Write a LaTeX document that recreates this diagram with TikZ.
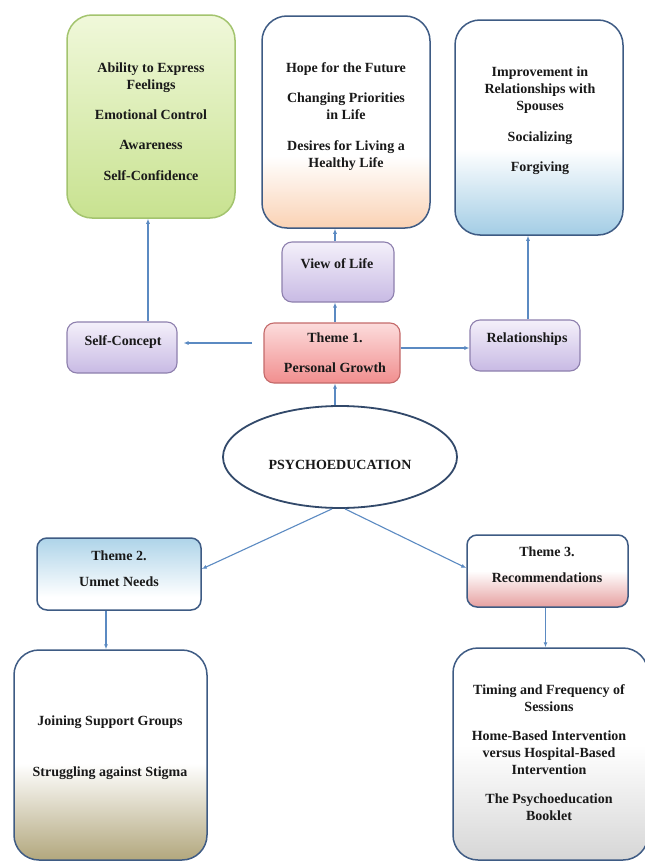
\documentclass[tikz,border=0pt]{standalone}
\usepackage{fontspec}
\setmainfont{Liberation Serif}
\usetikzlibrary{arrows.meta,shapes.geometric}
\definecolor{navy}{HTML}{3E5B84}
\definecolor{arrc}{HTML}{5B8AC2}
\definecolor{grline}{HTML}{A3C46E}
\definecolor{ppline}{HTML}{8E80AE}
\definecolor{pkline}{HTML}{C46A6A}
\definecolor{grbot}{HTML}{C8E290}
\definecolor{grtop}{HTML}{F0F8DA}
\definecolor{peach}{HTML}{FAD2B4}
\definecolor{lblue}{HTML}{A3CDE5}
\definecolor{ppbot}{HTML}{C8BAE4}
\definecolor{pptop}{HTML}{F4F0FA}
\definecolor{pkbot}{HTML}{F18E8E}
\definecolor{pktop}{HTML}{FCDCDC}
\definecolor{ttop}{HTML}{AED4E9}
\definecolor{tpink}{HTML}{E6A0A0}
\definecolor{khaki}{HTML}{B2A77D}
\definecolor{lgray}{HTML}{D6D6D6}
\pgfdeclareverticalshading{greensh}{100bp}{color(0bp)=(grbot); color(25bp)=(grbot); color(75bp)=(grtop); color(100bp)=(grtop)}
\pgfdeclareverticalshading{orangesh}{100bp}{color(0bp)=(peach); color(25bp)=(peach); color(42bp)=(white); color(100bp)=(white)}
\pgfdeclareverticalshading{bluesh}{100bp}{color(0bp)=(lblue); color(25bp)=(lblue); color(45bp)=(white); color(100bp)=(white)}
\pgfdeclareverticalshading{purplesh}{100bp}{color(0bp)=(ppbot); color(25bp)=(ppbot); color(75bp)=(pptop); color(100bp)=(pptop)}
\pgfdeclareverticalshading{pinksh}{100bp}{color(0bp)=(pkbot); color(25bp)=(pkbot); color(75bp)=(pktop); color(100bp)=(pktop)}
\pgfdeclareverticalshading{themetwosh}{100bp}{color(0bp)=(white); color(34bp)=(white); color(75bp)=(ttop); color(100bp)=(ttop)}
\pgfdeclareverticalshading{themethreesh}{100bp}{color(0bp)=(tpink); color(25bp)=(tpink); color(50bp)=(white); color(100bp)=(white)}
\pgfdeclareverticalshading{khakish}{100bp}{color(0bp)=(khaki); color(25bp)=(khaki); color(48bp)=(white); color(100bp)=(white)}
\pgfdeclareverticalshading{graysh}{100bp}{color(0bp)=(lgray); color(25bp)=(lgray); color(52bp)=(white); color(100bp)=(white)}
\tikzset{
  bigbox/.style={draw=navy, line width=1.5pt, rounded corners=25pt, inner sep=0pt},
  smallbox/.style={draw=ppline, line width=1.1pt, rounded corners=10pt, inner sep=0pt, shading=purplesh},
  lbl/.style={font=\fontsize{14}{17}\selectfont\bfseries, align=center, inner sep=0pt, text=black!90},
  arr/.style={draw=arrc, line width=1.1pt, -{Latex[length=5pt,width=4pt]}}
}
\begin{document}
\begin{tikzpicture}[x=1pt,y=-1pt]
\useasboundingbox[fill=white] (0,0) rectangle (645,862);
% top boxes
\node[bigbox, draw=grline, shading=greensh, minimum width=168pt, minimum height=203pt] (green) at (151,116.5) {};
\node[bigbox, shading=orangesh, minimum width=168pt, minimum height=212pt] (orange) at (346,122) {};
\node[bigbox, shading=bluesh, minimum width=168pt, minimum height=215pt] (blue) at (539,127.5) {};
\node[lbl] (tgreen) at (151,122) {Ability to Express\\Feelings\\[13pt]Emotional Control\\[13pt]Awareness\\[14pt]Self-Confidence};
\node[lbl] (torange) at (346,117) {Hope for the Future\\[13pt]Changing Priorities\\in Life\\[14pt]Desires for Living a\\Healthy Life};
\node[lbl] (tblue) at (540,120.5) {Improvement in\\Relationships with\\Spouses\\[14pt]Socializing\\[13pt]Forgiving};
% middle boxes
\node[smallbox, minimum width=112pt, minimum height=60pt] (view) at (338,272) {};
\node[lbl] (tview) at (337,264) {View of Life};
\node[smallbox, minimum width=110pt, minimum height=51pt] (selfc) at (122,347.5) {};
\node[lbl] (tselfc) at (123,342) {Self-Concept};
\node[smallbox, minimum width=110pt, minimum height=51pt] (rel) at (525,345.5) {};
\node[lbl] (trel) at (527,339) {Relationships};
\node[smallbox, draw=pkline, shading=pinksh, minimum width=136pt, minimum height=60pt] (theme1) at (332,353) {};
\node[lbl] (ttheme1) at (335,353) {Theme 1.\\[13pt]Personal Growth};
% ellipse
\node[ellipse, draw=navy!80!black, line width=1.8pt, fill=white, minimum width=234pt, minimum height=102pt, inner sep=0pt] (psy) at (340,457) {};
\node[lbl] (tpsy) at (340,465) {PSYCHOEDUCATION};
% theme 2 and 3
\node[smallbox, draw=navy, line width=1.5pt, shading=themetwosh, minimum width=164pt, minimum height=72pt] (theme2) at (119,574) {};
\node[lbl] (ttheme2) at (119,569) {Theme 2.\\[9pt]Unmet Needs};
\node[smallbox, draw=navy, line width=1.5pt, shading=themethreesh, minimum width=161pt, minimum height=72pt] (theme3) at (547.5,571) {};
\node[lbl] (ttheme3) at (547,565) {Theme 3.\\[9pt]Recommendations};
% bottom boxes
\node[bigbox, shading=khakish, minimum width=193pt, minimum height=210pt] (bl) at (110.5,755) {};
\node[lbl] (tbl) at (110,747.5) {Joining Support Groups\\[34pt]Struggling against Stigma};
\node[bigbox, shading=graysh, minimum width=195pt, minimum height=212pt] (br) at (550.5,754) {};
\node[lbl] (tbr) at (549,752.5) {Timing and Frequency of\\Sessions\\[12pt]Home-Based Intervention\\versus Hospital-Based\\Intervention\\[12pt]The Psychoeducation\\Booklet};
% connectors
\draw[arr] ([xshift=26pt]selfc.north) -- ([xshift=26pt]selfc.north |- green.south);
\draw[arr] ([xshift=-3pt]view.south |- theme1.north) -- ([xshift=-3pt]view.south);
\draw[arr] ([xshift=-3pt]view.north) -- ([xshift=-3pt]view.north |- orange.south);
\draw[arr] ([xshift=3pt]rel.north) -- ([xshift=3pt]rel.north |- blue.south);
\coordinate (lstart) at (252,343);
\draw[arr] (lstart) -- ([xshift=6pt]lstart -| selfc.east);
\draw[arr] ([yshift=5pt]theme1.east) -- ([yshift=5pt]theme1.east -| rel.west);
\draw[arr] ([xshift=-5pt]psy.north) -- ([xshift=-5pt]psy.north |- theme1.south);
\draw[arr] ([xshift=-8pt]psy.south) -- ([yshift=5pt]theme2.east);
\draw[arr] ([xshift=5pt]psy.south) -- ([yshift=3pt]theme3.west);
\draw[arr] ([xshift=-13pt]theme2.south) -- ([xshift=-13pt]theme2.south |- bl.north);
\draw[arr] ([xshift=-2pt]theme3.south) -- ([xshift=-2pt]theme3.south |- br.north);
\end{tikzpicture}
\end{document}
